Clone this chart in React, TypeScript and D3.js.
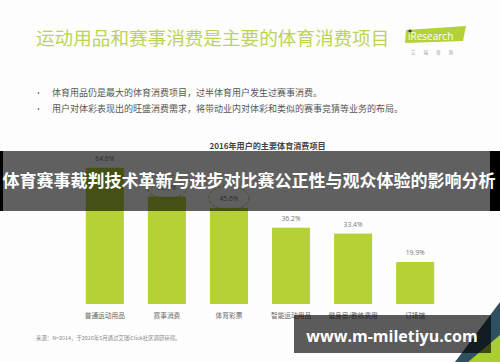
import * as d3 from "d3";

const categories = ["普通运动用品", "赛事消费", "体育彩票", "智能运动用品", "健身房/教练费用", "订场馆"];
const values = [64.6, 50.9, 45.6, 36.2, 33.4, 19.9];
const highlighted = ["赛事消费", "体育彩票"];

const pageTitle = "运动用品和赛事消费是主要的体育消费项目";
const bullets = [
  "体育用品仍是最大的体育消费项目，过半体育用户发生过赛事消费。",
  "用户对体彩表现出的旺盛消费需求，将带动业内对体彩和类似的赛事竞猜等业务的布局。",
];
const chartTitle = "2016年用户的主要体育消费项目";
const source = "来源：N=2014，于2016年5月通过艾瑞iClick社区调研获得。";
const banner = "体育赛事裁判技术革新与进步对比赛公正性与观众体验的影响分析";
const watermark = "www.m-miletiyu.com";

const W = 500;
const H = 362;
const cjk = "'Noto Sans CJK SC', 'Noto Sans', sans-serif";
const green = "#b4d236";

export default function App() {
  const x = d3.scaleBand<string>().domain(categories).range([74, 446]).paddingInner(0.387).paddingOuter(0.19);
  const y = d3.scaleLinear().domain([0, 100]).range([304, 93.2]);

  return (
    <div style={{ position: "fixed", left: 0, top: 0 }}>
      <svg width={W} height={H} style={{ display: "block", background: "#fdfdfd" }}>
        {/* header */}
        <text x={36} y={45} fontFamily={cjk} fontSize={18.6} fill="#bcd454">
          {pageTitle}
        </text>
        <polygon points="406,30 466,26 463,41 405,43" fill="#b4d236" />
        <circle cx={410} cy={31} r={1.6} fill="#2b3a4a" />
        <text x={408} y={40} fontFamily="'Open Sans', sans-serif" fontSize={10} fill="#fff">
          {"iResearch"}
        </text>
        <text x={436} y={54} fontFamily={cjk} fontSize={4.5} fill="#999" textAnchor="middle" letterSpacing={8}>
          {"艾瑞咨询"}
        </text>

        {bullets.map((b, i) => (
          <g key={i}>
            <circle cx={38.5} cy={93 + i * 16} r={0.9} fill="#777" />
            <text x={52} y={96 + i * 16} fontFamily={cjk} fontSize={9} fill="#555">
              {b}
            </text>
          </g>
        ))}

        <text x={267.5} y={149} fontFamily={cjk} fontSize={8.1} fontWeight="bold" fill="#444" textAnchor="middle">
          {chartTitle}
        </text>

        {/* bars */}
        {categories.map((c, i) => {
          const bx = x(c)!;
          const cx = bx + x.bandwidth() / 2;
          const top = y(values[i]);
          return (
            <g key={c}>
              <rect x={bx} y={top} width={x.bandwidth()} height={y(0) - top} fill={green} />
              {highlighted.includes(c) && (
                <ellipse cx={cx} cy={top - 10} rx={20} ry={12} fill="none" stroke="#a3b255" strokeWidth={0.9} strokeDasharray="3,2" />
              )}
              <text x={cx} y={top - 7} fontFamily="'Open Sans', sans-serif" fontSize={6.8} fill="#777" textAnchor="middle">
                {values[i].toFixed(1) + "%"}
              </text>
              <text x={cx} y={318} fontFamily={cjk} fontSize={6.7} fill="#666" textAnchor="middle">
                {c}
              </text>
            </g>
          );
        })}

        <text x={36} y={340} fontFamily={cjk} fontSize={5.4} fill="#888">
          {source}
        </text>

        {/* corner decoration */}
        <polygon points="500,302 500,340 470,362 455,362" fill="#2f5060" />
        <polygon points="500,335 500,362 468,362" fill="#a8cf2e" />

        {/* overlay banner */}
        <rect x={0} y={151} width={W} height={60} fill="rgba(0,0,0,0.62)" />
        <rect x={0} y={151} width={3} height={60} fill="#000" />
        <rect x={490} y={151} width={10} height={60} fill="#000" />
        <text x={249} y={187} fontFamily={cjk} fontSize={17} fontWeight="bold" fill="#fff" textAnchor="middle">
          {banner}
        </text>

        {/* watermark box */}
        <rect x={294} y={315} width={197} height={38} fill="rgba(0,0,0,0.64)" />
        <text x={392} y={342} fontFamily="'Open Sans', sans-serif" fontSize={16} fontWeight="bold" fill="#fff" textAnchor="middle">
          {watermark}
        </text>
      </svg>
    </div>
  );
}
